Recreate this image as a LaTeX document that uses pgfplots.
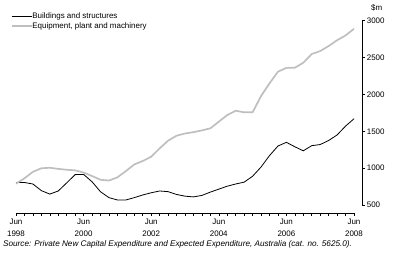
\documentclass[border=0pt]{standalone}
\usepackage{pgfplots}
\pgfplotsset{compat=1.18}
\usepackage{fontspec}
\setmainfont{Liberation Sans}
\definecolor{eqgray}{RGB}{191,191,191}

\begin{document}
\fontsize{8}{9.6}\selectfont
\begin{tikzpicture}
  \useasboundingbox (0,0) rectangle (397bp,265bp);
  % data and right-hand y axis
  \begin{axis}[
      at={(16bp,60bp)}, anchor=south west,
      scale only axis,
      width=346bp, height=184.3bp,
      xmin=0, xmax=40.947,
      ymin=500, ymax=3000,
      axis x line=none,
      axis y line*=right,
      ytick={500,1000,...,3000},
      tick align=outside,
      major tick length=3bp,
      every tick/.style={black, line width=0.6bp},
      y axis line style={line width=0.6bp, -},
      yticklabel style={font=\fontsize{8}{9.6}\selectfont, xshift=-1bp},
      /pgf/number format/assume math mode=true,
      /pgf/number format/set thousands separator={},
      clip=false,
      legend cell align=left,
      legend style={
        at={(axis description cs:-0.0153,1.045)}, anchor=north west,
        draw=none, fill=none, inner sep=0pt, outer sep=0pt,
        font=\fontsize{8}{9.6}\selectfont,
        nodes={inner sep=0pt, text height=6bp, text depth=1.5bp},
        row sep=2.5bp,
        /tikz/every even column/.append style={column sep=2bp},
      },
      legend image code/.code={\draw[#1] (0bp,0bp) -- (20bp,0bp);},
    ]
    \addplot[black, line width=0.8bp] coordinates {
      (0,805) (1,805) (2,785) (3,695) (4,648) (5,690) (6,800) (7,912)
      (8,915) (9,815) (10,680) (11,600) (12,568) (13,568) (14,600) (15,636)
      (16,666) (17,690) (18,681) (19,643) (20,620) (21,610) (22,630) (23,675)
      (24,715) (25,755) (26,785) (27,810) (28,890) (29,1015) (30,1170) (31,1300)
      (32,1350) (33,1290) (34,1235) (35,1305) (36,1320) (37,1375) (38,1450)
      (39,1570) (40,1670)
    };
    \addplot[eqgray, line width=1.7bp] coordinates {
      (0,790) (1,862) (2,950) (3,998) (4,1005) (5,990) (6,978) (7,970)
      (8,940) (9,893) (10,842) (11,832) (12,875) (13,960) (14,1050) (15,1097)
      (16,1155) (17,1268) (18,1372) (19,1440) (20,1470) (21,1488) (22,1512)
      (23,1540) (24,1630) (25,1720) (26,1779) (27,1757) (28,1757) (29,1978)
      (30,2150) (31,2308) (32,2360) (33,2362) (34,2430) (35,2548) (36,2588)
      (37,2656) (38,2735) (39,2800) (40,2890)
    };
    \legend{Buildings and structures, {Equipment, plant and machinery}}
  \end{axis}
  % x axis, set a little below the plot
  \begin{axis}[
      at={(16bp,52bp)}, anchor=south west,
      scale only axis,
      width=338bp, height=10bp,
      xmin=0, xmax=40, ymin=0, ymax=1,
      axis x line*=bottom,
      axis y line=none,
      xtick={0,8,...,40},
      minor xtick={0,1,...,40},
      xticklabels={Jun\\1998, Jun\\2000, Jun\\2002, Jun\\2004, Jun\\2006, Jun\\2008},
      xticklabel style={align=center, font=\fontsize{8}{12.5}\selectfont},
      tick align=outside,
      major tick length=3bp, minor tick length=3bp,
      every tick/.style={black, line width=0.6bp},
      x axis line style={line width=0.6bp, -},
    ]
  \end{axis}
  \node[anchor=base west, inner sep=0pt] at (371bp,254bp) {\$m};
  \node[anchor=west, inner sep=0pt] at (3bp,21bp)
    {\fontsize{8.2}{9.8}\selectfont\itshape Source: Private New Capital Expenditure and Expected Expenditure, Australia (cat. no. 5625.0).};
\end{tikzpicture}
\end{document}
